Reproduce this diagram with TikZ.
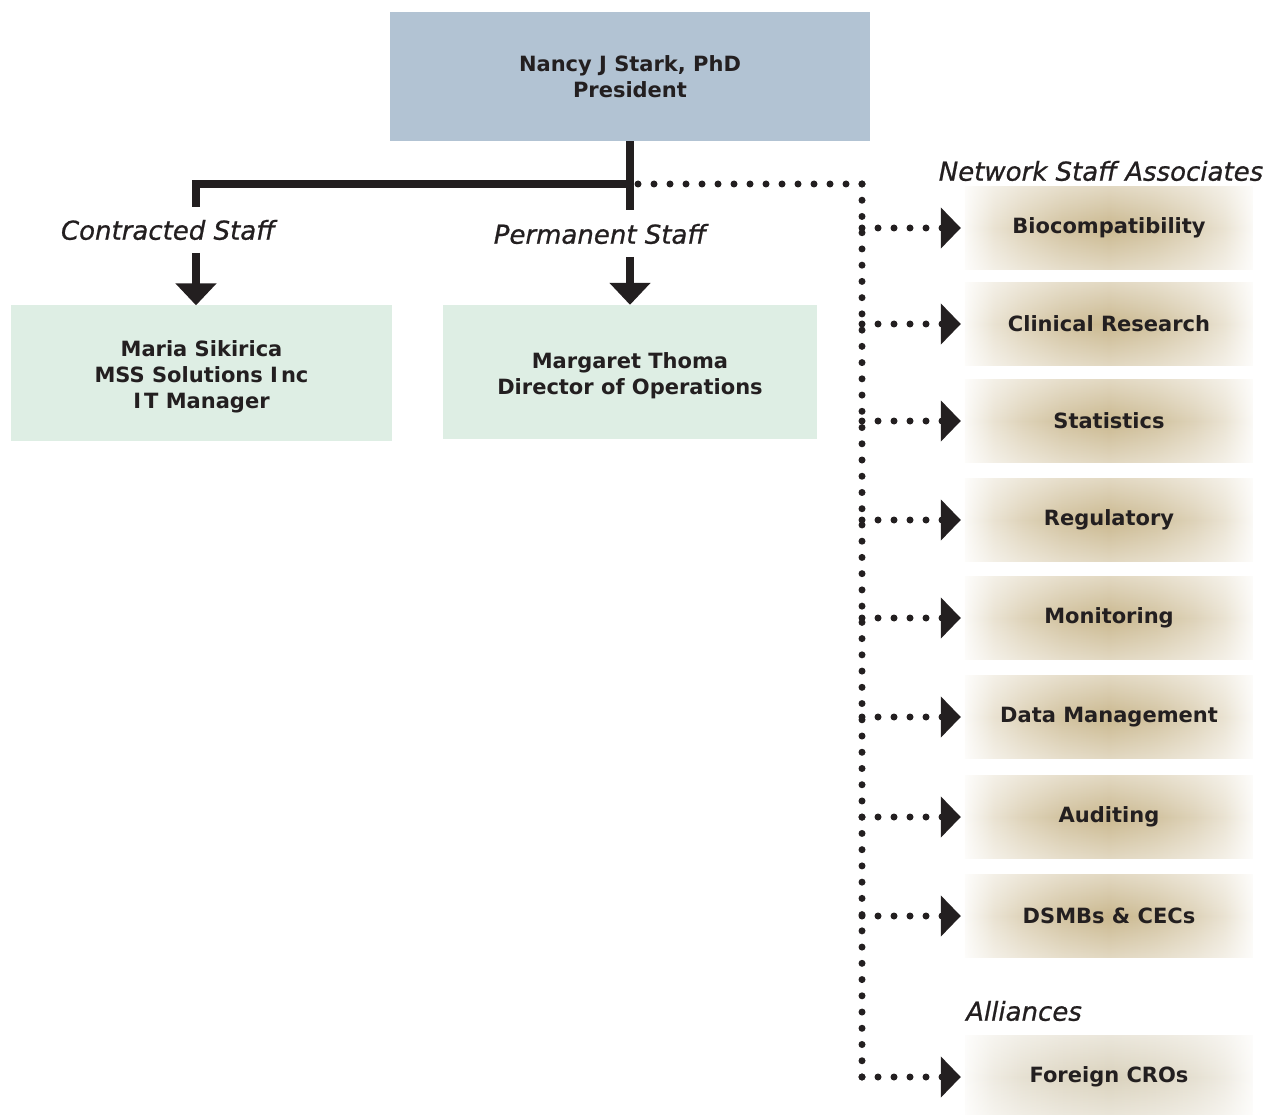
\documentclass[tikz,border=0pt]{standalone}
\usepackage{fontspec}
\setmainfont{DejaVu Sans}
\newfontfamily\boxfont{DejaVu Sans}
\newfontfamily\lblfont[FakeBold=0.8]{DejaVu Sans}
\usetikzlibrary{arrows.meta,fadings}
\newcommand\lowtext[1]{\raisebox{-4pt}[\height][\depth]{\begin{tabular}{@{}c@{}}#1\end{tabular}}}
\definecolor{ink}{RGB}{35,31,32}
\definecolor{topblue}{RGB}{178,195,211}
\definecolor{paleGreen}{RGB}{222,238,228}
\definecolor{tanC}{RGB}{202,184,143}
\definecolor{tanL}{RGB}{218,210,189}
\pgfdeclarehorizontalshading{tanh}{100bp}{color(0bp)=(white); color(25bp)=(tanC!8!white); color(30bp)=(tanC!40!white); color(35bp)=(tanC!62!white); color(42bp)=(tanC!85!white); color(50bp)=(tanC); color(58bp)=(tanC!85!white); color(65bp)=(tanC!62!white); color(70bp)=(tanC!40!white); color(75bp)=(tanC!8!white); color(100bp)=(white)}
\pgfdeclarehorizontalshading{greyh}{100bp}{color(0bp)=(white); color(25bp)=(tanL!10!white); color(30bp)=(tanL!45!white); color(35bp)=(tanL!68!white); color(42bp)=(tanL!88!white); color(50bp)=(tanL); color(58bp)=(tanL!88!white); color(65bp)=(tanL!68!white); color(70bp)=(tanL!45!white); color(75bp)=(tanL!10!white); color(100bp)=(white)}
\tikzfading[name=vfade, top color=transparent!45, bottom color=transparent!45, middle color=transparent!0]
\tikzset{
  boxtext/.style={text=ink, align=center, inner sep=0pt, font=\boxfont\bfseries\fontsize{21}{26}\selectfont},
  topbox/.style={boxtext, fill=topblue, minimum width=480pt, minimum height=129pt},
  staffbox/.style={boxtext, fill=paleGreen, minimum height=135pt},
  netbox/.style={boxtext, shading=tanh, path fading=vfade, minimum width=288pt, minimum height=83pt},
  allybox/.style={boxtext, shading=greyh, path fading=vfade, minimum width=288pt, minimum height=83pt},
  grplabel/.style={text=ink, inner sep=0pt, font=\lblfont\itshape\fontsize{26}{30}\selectfont},
  solidline/.style={draw=ink, line width=8pt, line join=miter},
  solidarrow/.style={solidline, -{Triangle[width=40pt,length=22pt]}},
  dotline/.style={draw=ink, line width=7pt, line cap=round, dash pattern=on 0pt off 16pt},
  dotvert/.style={draw=ink, line width=7pt, line cap=round, dash pattern=on 0pt off 16.236pt},
  dotarrow/.style={dotline, shorten >=4pt, -{Triangle[width=40pt,length=20pt,line cap=butt]}},
}
\begin{document}
\begin{tikzpicture}[x=1pt,y=-1pt]
\useasboundingbox (0,0) rectangle (1280,1115);

% main nodes
\node[topbox] (top) at (630,76.5) {Nancy J Stark, PhD\\President};
\node[staffbox, minimum width=381pt] (maria) at (201.5,373) {\lowtext{Maria Sikirica\\MSS Solutions I\kern3pt nc\\I\kern3pt T Manager}};
\node[staffbox, minimum width=374pt, minimum height=134pt] (marg) at (630,372) {\lowtext{Margaret Thoma\\Director of Operations}};

% labels
\node[grplabel] (lcon) at (168,230) {Contracted Staff};
\node[grplabel] (lper) at (600,234) {Permanent Staff};
\node[grplabel] (lnet) at (1101,171) {Network Staff Associates};
\node[grplabel] (lall) at (1024,1011) {Alliances};

% network boxes
\node[netbox] (b1) at (1109,228) {Biocompatibility};
\node[netbox] (b2) at (1109,324) {Clinical Research};
\node[netbox] (b3) at (1109,421) {Statistics};
\node[netbox] (b4) at (1109,520) {Regulatory};
\node[netbox] (b5) at (1109,618) {Monitoring};
\node[netbox] (b6) at (1109,717) {Data Management};
\node[netbox] (b7) at (1109,817) {Auditing};
\node[netbox] (b8) at (1109,916) {DSMBs \& CECs};
\node[allybox] (b9) at (1109,1077) {Foreign CROs};

% coordinates
\coordinate (jn) at (630,184);
\coordinate (pstub) at (630,210);
\coordinate (lc) at (196,184);
\coordinate (cstub) at (196,207);
\coordinate (carr) at (196,253);
\coordinate (parr) at (630,257);
\coordinate (dtop) at (862,184);
\coordinate (dbot) at (862,1077);

% dotted network connectors
\draw[dotline] (dtop) -- (jn);
\draw[dotvert] (dtop) -- (dbot);
\foreach \b in {b1,b2,b3,b4,b5,b6,b7,b8,b9}
  \draw[dotarrow] (dtop |- \b.west) -- (\b.west);

% solid connectors
\draw[solidline] (top.south) -- (pstub);
\draw[solidline] (jn) -- (lc) -- (cstub);
\draw[solidarrow] (carr) -- (carr |- maria.north);
\draw[solidarrow] (parr) -- (marg.north);
\end{tikzpicture}
\end{document}
